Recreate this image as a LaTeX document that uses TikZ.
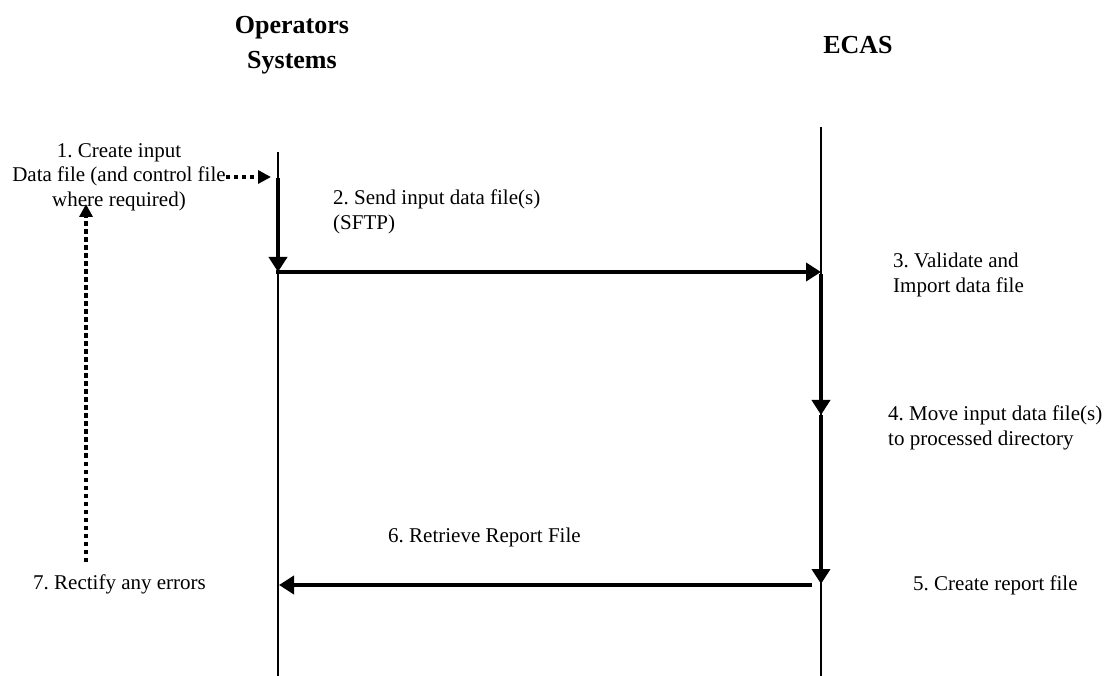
\documentclass[tikz,border=0pt]{standalone}
\usepackage{fontspec}
\setmainfont{Liberation Serif}
\frenchspacing
\usetikzlibrary{positioning,arrows.meta,calc}
\tikzset{
  head/.style={font=\fontsize{26}{35}\selectfont\bfseries, align=center, inner sep=0pt},
  lbl/.style={font=\fontsize{21}{24.5}\selectfont, align=left, anchor=west, inner sep=0pt},
  ctr/.style={font=\fontsize{21}{24.5}\selectfont, align=center, inner sep=0pt},
  life/.style={draw, line width=1.3pt},
  msg/.style={-{Triangle[length=15pt,width=18pt]}, line width=4.8pt},
  fix/.style={-{Triangle[length=13pt,width=13pt]}, line width=4.5pt, dash pattern=on 4.5pt off 3.5pt},
}
\begin{document}
\begin{tikzpicture}[x=1pt,y=-1pt]
\useasboundingbox (0,0) rectangle (1112,676);
\node[head] (ops) at (292,45) {Operators\\Systems};
\node[head] (ecas) at (858,45) {ECAS};
\coordinate (opsTop) at (278,152);  \coordinate (opsBot) at (278,676);
\coordinate (ecasTop) at (821,127); \coordinate (ecasBot) at (821,676);
\draw[life] (opsTop) -- (opsBot);   \draw[life] (ecasTop) -- (ecasBot);
\coordinate (s1) at (278,177); \coordinate (s2) at (278,272); \coordinate (s6) at (279,585);
\coordinate (e3) at (821,272); \coordinate (e4) at (821,415); \coordinate (e5) at (821,584);
\node[ctr] (create) at (119,177) {1. Create input\\Data file (and control file\\where required)};
\node[lbl] (send) at (333,212) {2. Send input data file(s)\\(SFTP)};
\node[lbl] (validate) at (893,275) {3. Validate and\\Import data file};
\node[lbl] (move) at (888,428) {4. Move input data file(s)\\to processed directory};
\node[lbl] (report) at (913,585) {5. Create report file};
\node[lbl] (retrieve) at (388,537) {6. Retrieve Report File};
\node[lbl] (rectify) at (33,584) {7. Rectify any errors};
\coordinate (fixA) at (86,562); \coordinate (fixB) at (86,204);
\draw[fix] (create.east |- s1) -- ([xshift=-7pt]s1);
\draw[fix] (fixA) -- (fixB);
\draw[msg] ([yshift=-1pt]s1) -- (s2);   \draw[msg] ([xshift=-2pt]s2) -- (e3);
\draw[msg] ([yshift=-2pt]e3) -- (e4);   \draw[msg] (e4) -- (e5);
\draw[msg] ([xshift=-9pt]e5 |- s6) -- (s6);
\end{tikzpicture}
\end{document}
